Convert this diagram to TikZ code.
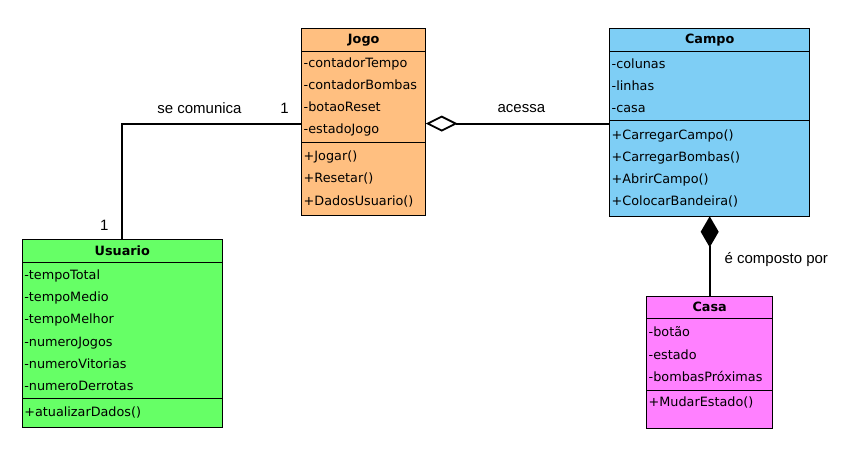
\documentclass[tikz,border=0pt]{standalone}
\usepackage{fontspec}
\setmainfont{DejaVu Sans}
\newfontfamily\lblfont{Liberation Sans}
\usetikzlibrary{arrows.meta, positioning}
\definecolor{jogocol}{RGB}{255,191,128}
\definecolor{campocol}{RGB}{126,206,245}
\definecolor{usuariocol}{RGB}{102,255,102}
\definecolor{casacol}{RGB}{255,128,255}

\begin{document}
\begin{tikzpicture}[x=1pt, y=-1pt,
    clshead/.style={rectangle, draw, line width=1.3pt, outer sep=0pt, inner xsep=2pt, inner ysep=0pt,
      align=center, font=\bfseries\fontsize{12.8}{15}\selectfont},
    clspart/.style={rectangle, draw, line width=1.3pt, outer sep=0pt, inner xsep=2pt, inner ysep=0pt,
      align=left, font=\fontsize{12.8}{22.2}\selectfont},
    lbl/.style={inner sep=0pt, font=\lblfont\fontsize{15}{18}\selectfont},
    link/.style={draw, line width=1.8pt}
    ]
    \useasboundingbox (0,0) rectangle (851,460);

    % Jogo
    \node[clshead, fill=jogocol, text width=120pt, minimum height=23pt, anchor=north west] (jogo) at (301.7,28.3) {Jogo};
    \node[clspart, fill=jogocol, text width=120pt, minimum height=91pt, below=0pt of jogo] (jogoattr)
      {-contadorTempo\\-contadorBombas\\-botaoReset\\-estadoJogo};
    \node[clspart, fill=jogocol, text width=120pt, minimum height=73pt, below=0pt of jogoattr] (jogoops)
      {+Jogar()\\+Resetar()\\+DadosUsuario()};

    % Campo
    \node[clshead, fill=campocol, text width=196pt, minimum height=23pt, right=184pt of jogo] (campo) {Campo};
    \node[clspart, fill=campocol, text width=196pt, minimum height=69pt, below=0pt of campo] (campoattr)
      {-colunas\\-linhas\\-casa};
    \node[clspart, fill=campocol, text width=196pt, minimum height=96pt, below=0pt of campoattr] (campoops)
      {+CarregarCampo()\\+CarregarBombas()\\+AbrirCampo()\\+ColocarBandeira()};

    % Usuario
    \node[clshead, fill=usuariocol, text width=196pt, minimum height=23pt, anchor=north west] (usuario) at (22.3,239.3) {Usuario};
    \node[clspart, fill=usuariocol, text width=196pt, minimum height=136pt, below=0pt of usuario] (usuarioattr)
      {-tempoTotal\\-tempoMedio\\-tempoMelhor\\-numeroJogos\\-numeroVitorias\\-numeroDerrotas};
    \node[clspart, fill=usuariocol, text width=196pt, minimum height=29pt, below=0pt of usuarioattr] (usuarioops)
      {+atualizarDados()};

    % Casa
    \node[clshead, fill=casacol, text width=122pt, minimum height=22pt, below=80pt of campoops] (casa) {Casa};
    \node[clspart, fill=casacol, text width=122pt, minimum height=72pt, below=0pt of casa] (casaattr)
      {-botão\\-estado\\-bombasPróximas};
    \node[clspart, fill=casacol, text width=122pt, text height=16.3pt, text depth=21.7pt, below=0pt of casaattr] (casaops)
      {+MudarEstado()};

    \coordinate (acesso) at ([yshift=-26.8pt]jogoattr.east);

    \draw[link] (usuario.north) |- (jogoattr.west |- acesso)
      node[lbl, pos=0.715, above=9pt] {se comunica}
      node[lbl, at end, above left=9pt and 12pt] {1}
      node[lbl, at start, above left=8pt and 13pt] {1};
    \draw[link, {Diamond[open, length=32pt, width=16pt]}-] (acesso) -- (acesso -| campoops.west)
      node[lbl, pos=0.52, above=10pt] {acessa};
    \draw[link, {Diamond[length=31pt, width=18pt]}-] (campoops.south) -- (casa.north)
      node[lbl, pos=0.54, right=14pt] {é composto por};
  \end{tikzpicture}
\end{document}
